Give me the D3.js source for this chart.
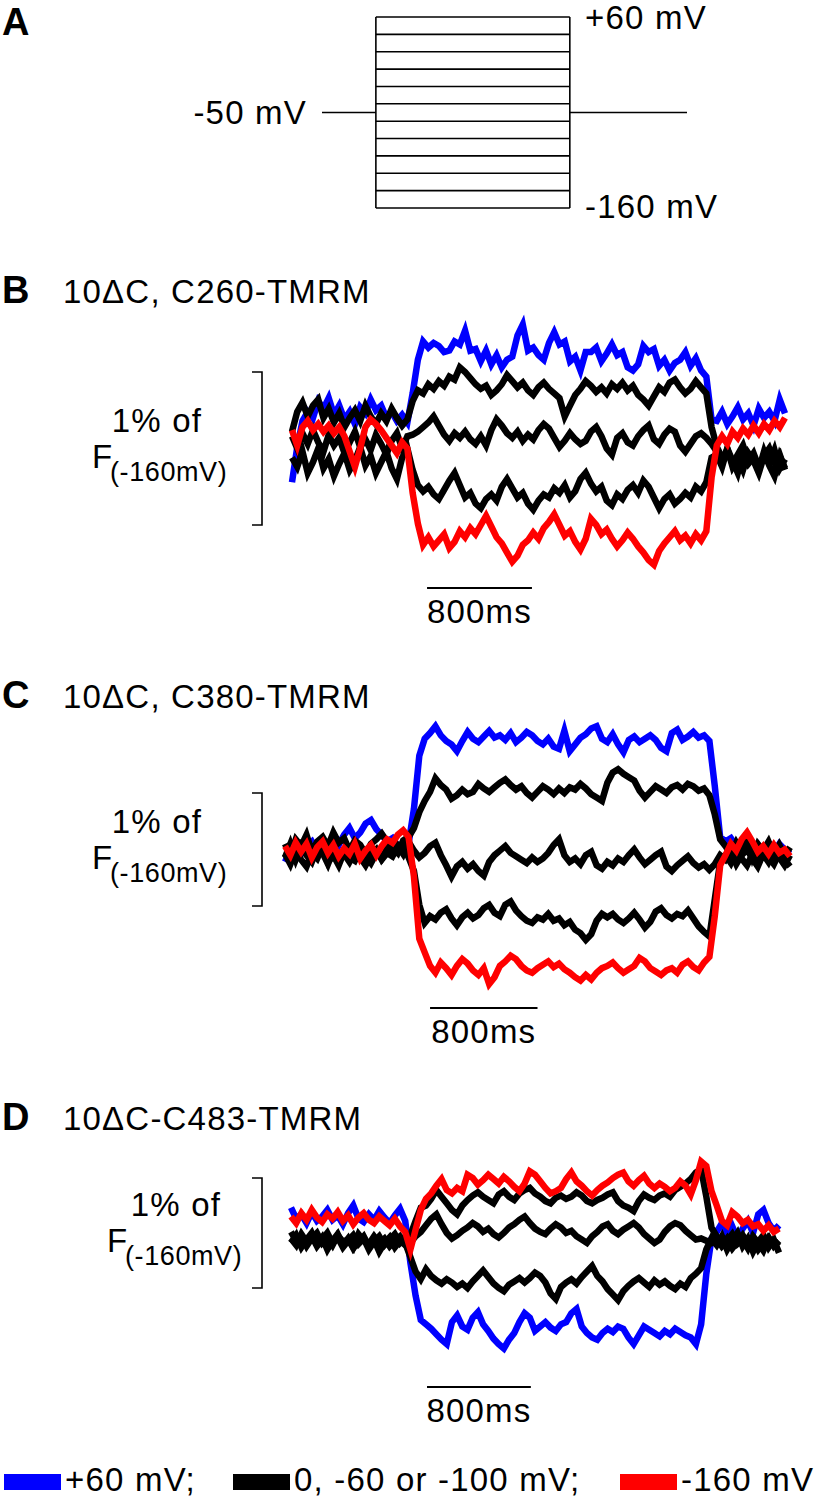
<!DOCTYPE html>
<html lang="en">
<head>
<meta charset="UTF-8">
<title>Voltage-clamp fluorometry traces</title>
<script src="https://d3js.org/d3.v7.min.js"></script>
<style>
    body { margin: 0; background: #fff; }
    svg { display: block; font-family: "Liberation Sans", Arial, sans-serif; }
    .lbl { font-size: 33px; letter-spacing: 1.2px; fill: #000; }
    .sub { font-size: 27px; letter-spacing: 0.6px; fill: #000; }
    .letter { font-size: 38px; font-weight: bold; fill: #000; }
</style>
</head>
<body>
<svg width="816" height="1500"></svg>
<script>
// optical traces are sampled every 40 ms
const sampleMs = 40;
const scaleBarMs = 800;

// Panel A: pulse protocol (mV) and its timing (ms)
const stepLevels = [60, 40, 20, 0, -20, -40, -60, -80, -100, -120, -140, -160];
const holdLevel = -50;
const protocolMs = [0, 400, 1840, 2710];   // start, step on, step off, end

// legend
const seriesNames = ["+60 mV;", "0, -60 or -100 mV;", "-160 mV"];
const seriesColors = ["#0000ff", "#000000", "#ff0000"];

// traces: ΔF in units of 0.01 % of F(-160mV), one value per sample
const bBlue = [-28,-5,12,18,14,25,20,27,16,22,13,18,10,21,17,26,19,22,14,18,12,16,11,
    30,52,
    64,60,63,61,57,58,64,62,71,58,59,51,58,49,55,47,52,54,68,75,58,60,55,52,63,70,62,64,51,54,
    45,57,57,60,51,56,62,55,57,47,45,49,61,57,59,48,52,45,50,52,57,48,53,45,
    41,13,
    12,18,10,15,21,13,17,9,20,14,18,12,26,17];
const bBlack1 = [5,18,24,15,22,26,14,20,11,17,8,14,19,12,22,15,10,17,12,20,14,9,13,
    25,32,
    30,36,33,38,35,41,39,47,44,40,36,33,35,29,32,36,42,38,34,37,32,29,34,37,33,30,27,15,22,29,
    33,38,35,31,34,30,36,33,37,32,35,29,26,22,28,34,31,37,39,34,30,33,38,34,
    30,8,
    -5,-12,-8,-16,-10,-4,-14,-9,-18,-11,-6,-15,-10,-20];
const bBlack2 = [2,-6,4,-3,6,-2,-8,3,-4,1,-9,-2,5,-5,0,-7,3,-3,-10,-1,4,-6,2,
    3,5,
    8,11,15,9,3,-1,4,1,5,0,-3,2,-4,6,13,9,4,1,5,-1,3,0,6,10,7,1,-5,-1,4,0,
    -3,-1,5,8,2,-6,-10,1,4,-2,-4,2,6,9,0,-3,3,7,5,-4,-8,-3,2,4,
    1,-3,
    -8,-15,-6,-18,-12,-20,-9,-14,-22,-11,-16,-7,-19,-13];
const bBlack3 = [-12,-18,-8,-22,-15,-6,-19,-13,-24,-16,-9,-20,-14,-5,-17,-11,-22,-15,-8,-19,-26,-12,-6,
    -20,-30,
    -34,-31,-36,-39,-33,-27,-22,-30,-38,-35,-42,-45,-39,-36,-40,-31,-26,-32,-38,-35,-42,-46,-40,-36,-38,-32,-35,-30,-38,-34,
    -26,-22,-29,-34,-31,-40,-43,-36,-39,-33,-30,-35,-27,-31,-38,-45,-39,-36,-42,-39,-35,-38,-31,-34,
    -28,-12,
    -10,-18,-6,-14,-22,-9,-16,-12,-20,-8,-17,-24,-11,-19];
const bRed = [6,-4,8,12,6,10,5,9,4,8,2,-8,-18,-6,8,13,10,6,1,-4,-9,-2,-6,
    -35,-55,
    -69,-64,-70,-66,-62,-71,-67,-60,-64,-58,-62,-56,-50,-57,-64,-68,-74,-80,-76,-69,-66,-61,-65,-58,-54,-49,-56,-63,-60,-67,
    -72,-65,-52,-56,-62,-59,-65,-70,-66,-61,-65,-70,-74,-79,-82,-73,-68,-64,-60,-66,-63,-68,-62,-66,
    -60,-25,
    -4,2,-3,5,1,7,3,9,4,10,6,12,8,14];

const cBlue = [-12,-2,4,-5,2,6,-3,5,1,8,3,12,18,9,14,22,25,17,12,6,9,2,-3,4,
    35,82,
    97,102,108,100,95,92,86,95,103,97,94,99,104,98,100,96,102,94,98,103,100,95,92,97,90,88,104,
    86,92,98,101,106,108,97,94,101,92,85,96,99,94,97,100,96,89,86,102,105,96,99,103,98,100,95,
    55,10,
    6,9,2,-4,5,-2,3,-6,1,-3,4,-1,-5];
const cBlack1 = [4,-6,8,2,12,-3,6,10,2,14,5,9,-2,7,3,-5,4,8,13,6,1,-4,7,10,
    18,32,
    42,50,62,56,52,44,47,52,48,50,57,53,50,54,58,61,56,52,55,49,45,50,55,52,48,53,49,
    54,52,57,53,48,45,42,58,67,70,66,63,60,51,45,50,55,52,49,54,56,52,57,55,51,53,47,
    30,8,
    2,-6,5,-3,8,-8,4,-2,6,-5,3,-7,1];
const cBlack2 = [-8,4,-10,2,-6,-12,0,-4,-14,-2,-9,-5,-12,-3,-8,-15,-6,-1,-10,-4,-7,2,-5,6,
    -2,-8,
    -4,2,5,-6,-15,-25,-16,-12,-18,-14,-20,-24,-12,-6,-2,2,-4,-7,-10,-13,-8,-12,-9,-4,3,8,-6,
    -12,-9,-14,-6,-3,-15,-18,-12,-15,-9,-12,-6,-1,-8,-14,-10,-6,-3,-16,-20,-15,-11,-7,-13,-17,-14,-19,
    -14,-6,
    -10,-3,-14,-6,-1,-9,-16,-5,-12,-2,-8,-15,-6];
const cBlack3 = [-5,-14,-2,-10,-16,-4,-9,2,-12,-6,-15,-3,-8,-11,-1,-7,-13,-4,-9,0,-6,-2,3,-8,
    -20,-50,
    -66,-60,-63,-57,-54,-62,-68,-61,-57,-62,-59,-53,-50,-57,-60,-50,-47,-55,-60,-64,-66,-61,-63,-58,-64,-62,-68,
    -65,-72,-75,-81,-76,-64,-58,-61,-58,-63,-66,-62,-57,-63,-70,-65,-56,-53,-59,-62,-58,-60,-55,-62,-69,-74,-78,
    -45,-12,
    -6,-13,-3,-9,-15,-5,-11,-1,-8,-14,-4,-10,-16];
const cRed = [2,-6,5,-3,4,-8,1,6,-4,3,-7,0,-5,4,-9,-2,3,-6,2,8,5,12,16,10,
    -25,-80,
    -92,-104,-110,-101,-106,-112,-104,-98,-102,-108,-112,-106,-120,-114,-104,-100,-95,-98,-104,-108,-110,-106,-103,-100,-105,-102,-107,
    -110,-114,-117,-112,-116,-110,-106,-104,-101,-106,-110,-107,-104,-97,-100,-106,-109,-112,-108,-106,-110,-103,-100,-105,-108,-101,-96,
    -60,-15,
    -6,4,-2,8,14,6,-3,2,-5,3,-4,-1,-7];

const dBlue = [20,10,14,6,16,8,12,18,9,13,5,15,22,10,7,14,9,17,11,6,13,19,8,
    -30,-60,-82,
    -86,-90,-95,-100,-104,-84,-78,-88,-91,-80,-75,-86,-92,-99,-104,-108,-100,-94,-84,-76,-80,-92,-88,-84,-89,-92,-86,
    -84,-76,-72,-88,-94,-98,-100,-94,-90,-93,-88,-90,-98,-104,-96,-88,-91,-94,-97,-92,-95,-90,-93,-96,-98,-104,-86,
    -40,-8,
    -2,6,-5,3,-8,1,8,-3,14,18,6,-1,4];
const dBlack1 = [-8,-14,-4,-11,-6,-15,-9,-3,-12,-7,-16,-10,-5,-13,-8,-18,-11,-6,-14,-9,-4,-12,-7,
    -5,8,20,
    22,28,36,30,24,18,14,22,27,31,34,30,27,24,32,35,30,27,33,36,38,33,30,26,24,29,31,
    28,30,34,31,26,24,27,29,32,34,26,22,20,17,26,32,29,27,31,33,30,36,39,42,46,52,55,
    30,2,
    -6,-14,-8,-17,-11,-5,-13,-9,-18,-12,-7,-15,-10];
const dBlack2 = [-12,-5,-16,-9,-3,-13,-7,-18,-10,-4,-14,-8,-17,-11,-6,-15,-9,-20,-12,-7,-16,-10,-14,
    -12,-6,-2,
    4,10,14,5,-3,-8,-5,-1,2,6,3,-2,1,-4,-7,-3,2,5,9,12,6,1,-2,-4,1,5,2,
    -3,-1,-6,-9,-12,-6,-2,3,5,-1,-4,0,3,6,2,-4,-8,-12,-9,-2,3,6,4,-1,-5,-9,-8,
    -10,-12,
    -8,-15,-10,-4,-13,-9,-17,-6,-12,-19,-8,-14,-11];
const dBlack3 = [-2,-10,-6,-15,-8,-3,-12,-7,-14,-5,-11,-9,-16,-4,-10,-13,-6,-12,-8,-15,-10,-6,-12,
    -25,-38,-45,
    -36,-42,-46,-49,-45,-48,-52,-49,-53,-47,-42,-37,-43,-49,-53,-56,-50,-47,-44,-48,-44,-39,-42,-48,-58,-63,-52,
    -48,-45,-49,-43,-38,-33,-42,-47,-54,-59,-64,-56,-51,-47,-44,-48,-52,-46,-50,-47,-51,-54,-49,-52,-44,-40,-35,
    -18,-8,
    -14,-6,-18,-10,-3,-15,-8,-20,-11,-5,-16,-9,-21];
const dRed = [12,6,15,9,18,11,7,14,10,16,8,13,5,11,15,9,6,12,8,4,10,3,-2,
    -18,0,18,
    28,33,40,46,36,33,38,35,50,47,41,45,50,46,42,48,44,39,35,42,53,50,44,38,33,35,38,
    46,52,44,40,35,31,36,40,43,47,50,52,44,40,45,49,42,38,42,39,35,38,44,40,32,45,62,
    58,35,
    22,8,4,16,12,6,9,3,5,-1,4,-2,1];

// each calibration bracket spans 1 % (= 100 units); traces drawn blue, black x3, red
const panels = [
    {letter: "B", title: "10\u0394C, C260-TMRM", bracket: [-56, 44], traces: [bBlue, bBlack1, bBlack2, bBlack3, bRed]},
    {letter: "C", title: "10\u0394C, C380-TMRM", bracket: [-51, 49], traces: [cBlue, cBlack1, cBlack2, cBlack3, cRed]},
    {letter: "D", title: "10\u0394C-C483-TMRM", bracket: [-53, 47], traces: [dBlue, dBlack1, dBlack2, dBlack3, dRed]}
];
const traceColors = ["#0000ff", "#000000", "#000000", "#000000", "#ff0000"];

// where each panel sits on the page
const layout = {
    B: {titleY: 303, x0: 292, x1: 785, brTop: 372, brBot: 525, barY: 588, barStart: 1030, labelX: 157, fX: 92},
    C: {titleY: 708, x0: 285, x1: 790, brTop: 793, brBot: 906, barY: 1008, barStart: 1080, labelX: 157, fX: 92},
    D: {titleY: 1130, x0: 291, x1: 779, brTop: 1178, brBot: 1288, barY: 1387, barStart: 1048, labelX: 176, fX: 107}
};

const svg = d3.select("svg");

// ---------- Panel A ----------
const gA = svg.append("g");
gA.append("text").attr("class", "letter").attr("x", 2).attr("y", 35).text("A");

const xA = d3.scaleLinear().domain([protocolMs[0], protocolMs[3]]).range([322, 687]);
const yA = d3.scaleLinear().domain([-160, 60]).range([208, 17]);

gA.selectAll("line.step")
  .data(stepLevels)
  .enter()
  .append("line")
  .attr("class", "step")
  .attr("x1", xA(protocolMs[1]))
  .attr("x2", xA(protocolMs[2]))
  .attr("y1", d => yA(d))
  .attr("y2", d => yA(d))
  .attr("stroke", "#000")
  .attr("stroke-width", 1.6);

// vertical edges of the pulse family
[protocolMs[1], protocolMs[2]].forEach(t => {
    gA.append("line")
      .attr("x1", xA(t)).attr("x2", xA(t))
      .attr("y1", yA(d3.max(stepLevels))).attr("y2", yA(d3.min(stepLevels)))
      .attr("stroke", "#000").attr("stroke-width", 1.6);
});

// holding potential before and after
[[protocolMs[0], protocolMs[1]], [protocolMs[2], protocolMs[3]]].forEach(seg => {
    gA.append("line")
      .attr("x1", xA(seg[0])).attr("x2", xA(seg[1]))
      .attr("y1", yA(holdLevel)).attr("y2", yA(holdLevel))
      .attr("stroke", "#000").attr("stroke-width", 1.6);
});

gA.append("text").attr("class", "lbl").attr("x", 307).attr("y", yA(holdLevel) + 11)
  .attr("text-anchor", "end").text(holdLevel + " mV");
gA.append("text").attr("class", "lbl").attr("x", 585).attr("y", 29).text("+60 mV");
gA.append("text").attr("class", "lbl").attr("x", 585).attr("y", 218).text("-160 mV");

// ---------- Panels B-D ----------
panels.forEach(p => {
    const L = layout[p.letter];
    const g = svg.append("g");

    g.append("text").attr("class", "letter").attr("x", 2).attr("y", L.titleY).text(p.letter);
    g.append("text").attr("class", "lbl").attr("x", 63).attr("y", L.titleY).text(p.title);

    const n = p.traces[0].length;
    const x = d3.scaleLinear().domain([0, (n - 1) * sampleMs]).range([L.x0, L.x1]);
    const y = d3.scaleLinear().domain(p.bracket).range([L.brBot, L.brTop]);

    const line = d3.line()
        .x((d, i) => x(i * sampleMs))
        .y(d => y(d));

    g.selectAll("path.trace")
      .data(p.traces)
      .enter()
      .append("path")
      .attr("class", "trace")
      .attr("d", line)
      .attr("fill", "none")
      .attr("stroke", (d, i) => traceColors[i])
      .attr("stroke-width", 6.5)
      .attr("stroke-linejoin", "miter");

    // 1 % calibration bracket
    const bt = y(p.bracket[1]), bb = y(p.bracket[0]);
    g.append("path")
      .attr("d", `M252,${bt}H262V${bb}H252`)
      .attr("fill", "none")
      .attr("stroke", "#000")
      .attr("stroke-width", 1.6);

    const mid = (bt + bb) / 2;
    g.append("text").attr("class", "lbl").attr("x", L.labelX).attr("y", mid - 17)
      .attr("text-anchor", "middle").text("1% of");
    g.append("text").attr("class", "lbl").attr("x", L.fX).attr("y", mid + 19).text("F");
    g.append("text").attr("class", "sub").attr("x", L.fX + 18).attr("y", mid + 32).text("(-160mV)");

    // time scale bar
    const bx0 = x(L.barStart), bx1 = x(L.barStart + scaleBarMs);
    g.append("line")
      .attr("x1", bx0).attr("x2", bx1)
      .attr("y1", L.barY).attr("y2", L.barY)
      .attr("stroke", "#000").attr("stroke-width", 1.8);
    g.append("text").attr("class", "lbl")
      .attr("x", (bx0 + bx1) / 2).attr("y", L.barY + 35)
      .attr("text-anchor", "middle").text(scaleBarMs + "ms");
});

// ---------- legend ----------
const legendX = [4, 233, 620];
const leg = svg.append("g");
seriesNames.forEach((name, i) => {
    leg.append("rect")
       .attr("x", legendX[i]).attr("y", 1474)
       .attr("width", 57).attr("height", 16)
       .attr("fill", seriesColors[i]);
    leg.append("text").attr("class", "lbl")
       .attr("x", legendX[i] + 61).attr("y", 1491)
       .text(name);
});
</script>
</body>
</html>
